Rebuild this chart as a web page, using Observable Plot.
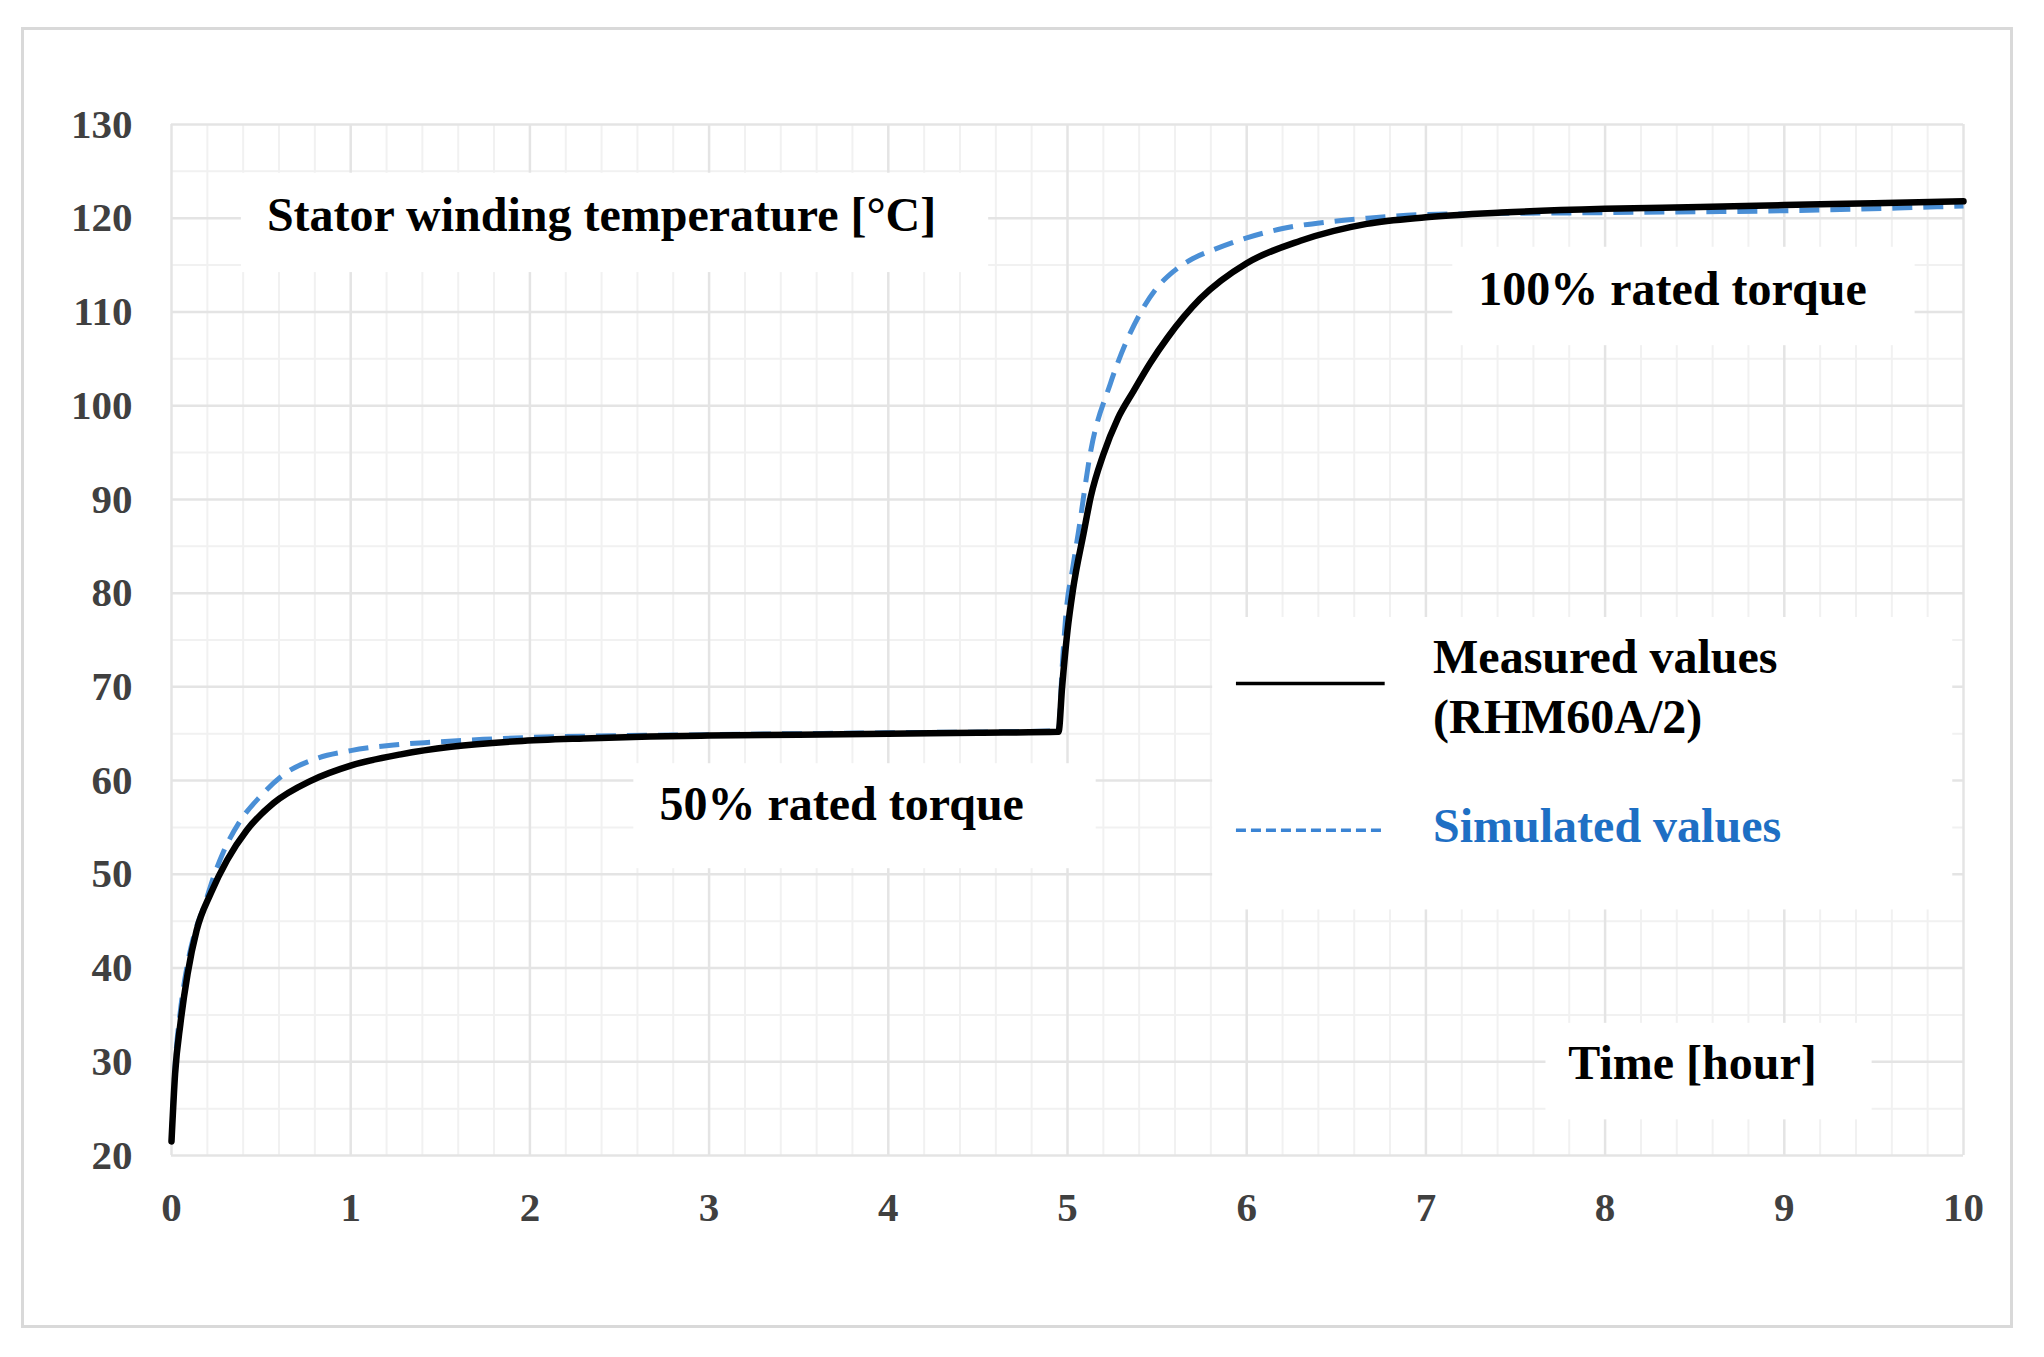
<!DOCTYPE html>
<html><head><meta charset="utf-8">
<script src="https://cdn.jsdelivr.net/npm/d3@7"></script>
<script src="https://cdn.jsdelivr.net/npm/@observablehq/plot@0.6"></script>
<style>
html,body{margin:0;padding:0;background:#fff;overflow:hidden;}
#wrap{position:relative;width:2044px;height:1357px;}
#frame{position:absolute;left:21px;top:27px;width:1992px;height:1301px;box-sizing:border-box;border:3px solid #d9d9d9;pointer-events:none;}
#chart{position:absolute;left:0;top:0;}
</style></head><body>
<div id="wrap"><div id="chart"></div><div id="frame"></div></div>
<script>
// Measured values (RHM60A/2)
const measuredTime = [0, 0.02, 0.05, 0.09, 0.14, 0.22, 0.31, 0.42, 0.57, 0.78, 1.0, 1.28, 1.56, 1.93, 2.3, 2.67, 3.0, 3.5, 4.0, 4.5, 4.95, 4.97, 5.0, 5.03, 5.09, 5.13, 5.2, 5.28, 5.37, 5.46, 5.56, 5.74, 6.0, 6.3, 6.67, 7.0, 7.42, 8.0, 8.53, 9.0, 9.5, 10];
const measuredTemp = [21.5, 28.7, 34.1, 39.4, 44.0, 48.0, 51.5, 54.7, 57.6, 60.0, 61.6, 62.8, 63.6, 64.2, 64.5, 64.7, 64.8, 64.9, 65.0, 65.1, 65.2, 70.0, 76.0, 80.3, 86.4, 90.3, 94.8, 98.6, 101.6, 104.5, 107.3, 111.4, 115.2, 117.6, 119.4, 120.1, 120.6, 121.0, 121.2, 121.4, 121.6, 121.8];
// Simulated values
const simulatedTime = [0, 0.02, 0.05, 0.09, 0.13, 0.18, 0.24, 0.29, 0.38, 0.5, 0.63, 0.8, 1.0, 1.24, 1.46, 1.74, 2.0, 3.0, 4.0, 4.95, 4.97, 4.99, 5.03, 5.06, 5.13, 5.24, 5.41, 5.5, 5.59, 5.7, 5.81, 6.0, 6.2, 6.45, 6.67, 7.0, 8.0, 9.0, 10];
const simulatedTemp = [21.5, 29.5, 35.5, 40.5, 43.8, 46.5, 50.0, 52.4, 55.6, 58.4, 60.7, 62.3, 63.2, 63.8, 64.1, 64.4, 64.6, 64.9, 65.1, 65.3, 72.0, 77.5, 82.8, 86.4, 95.2, 102.4, 110.0, 112.6, 114.3, 115.7, 116.6, 117.9, 118.9, 119.6, 120.0, 120.4, 120.6, 120.8, 121.3];

const xTicks = [0, 1, 2, 3, 4, 5, 6, 7, 8, 9, 10];
const yTicks = [20, 30, 40, 50, 60, 70, 80, 90, 100, 110, 120, 130];
const xMinor = d3.range(1, 50).filter(i => i % 5 !== 0).map(i => i / 5);
const yMinor = [25, 35, 45, 55, 65, 75, 85, 95, 105, 115, 125];

// Annotation text labels
const labelText = ["Stator winding temperature [°C]", "50% rated torque", "100% rated torque", "Time [hour]"];
const labelX = [2.40, 3.74, 8.376, 8.488];
const labelY = [120.33, 57.39, 112.33, 29.75];

// White boxes behind the text boxes (data units)
const boxX1 = [0.39, 2.58, 7.15, 7.67, 5.81];
const boxX2 = [4.56, 5.16, 9.73, 9.49, 9.94];
const boxY1 = [114.2, 50.6, 106.4, 23.8, 46.2];
const boxY2 = [124.8, 61.8, 116.9, 34.1, 77.4];

// Legend
const legendText = ["Measured values", "(RHM60A/2)", "Simulated values"];
const legendTextY = [73.07, 66.67, 55.04];
const legendTextColor = ["#000000", "#000000", "#1e6fc4"];
const legendTextX = 7.04;
const legendLineX1 = 5.94, legendLineX2 = 6.77;
const legendLineY = [70.36, 54.7];

const measured = measuredTime.map((t, i) => ({t, v: measuredTemp[i]}));
const simulated = simulatedTime.map((t, i) => ({t, v: simulatedTemp[i]}));
const labels = labelText.map((s, i) => ({s, x: labelX[i], y: labelY[i]}));
const boxes = boxX1.map((x1, i) => ({x1, x2: boxX2[i], y1: boxY1[i], y2: boxY2[i]}));
const legendLabels = legendText.map((s, i) => ({s, y: legendTextY[i], c: legendTextColor[i]}));

const font = "'Liberation Serif', 'Times New Roman', serif";

const chart = Plot.plot({
  width: 2044,
  height: 1357,
  marginLeft: 171,
  marginRight: 81,
  marginTop: 124,
  marginBottom: 202,
  x: {domain: [0, 10]},
  y: {domain: [20, 130]},
  style: {fontFamily: font, fontSize: "41px", fontWeight: "bold", background: "transparent", overflow: "visible"},
  marks: [
    Plot.gridX(xMinor, {stroke: "#f1f1f1", strokeOpacity: 1, strokeWidth: 2}),
    Plot.gridY(yMinor, {stroke: "#f1f1f1", strokeOpacity: 1, strokeWidth: 2}),
    Plot.gridX(xTicks, {stroke: "#e4e4e4", strokeOpacity: 1, strokeWidth: 2.5}),
    Plot.gridY(yTicks, {stroke: "#e4e4e4", strokeOpacity: 1, strokeWidth: 2.5}),
    Plot.rect(boxes, {x1: "x1", x2: "x2", y1: "y1", y2: "y2", fill: "white"}),
    Plot.line(simulated, {x: "t", y: "v", stroke: "#4a8fd6", strokeWidth: 5, strokeDasharray: "20,11", strokeLinecap: "butt", curve: "monotone-x"}),
    Plot.line(measured, {x: "t", y: "v", stroke: "#000", strokeWidth: 6.5, curve: "monotone-x"}),
    Plot.axisX({ticks: xTicks, tickSize: 0, tickPadding: 36, color: "#404040", fontWeight: "bold", label: null}),
    Plot.axisY({ticks: yTicks, tickSize: 0, tickPadding: 39, color: "#404040", fontWeight: "bold", label: null}),
    Plot.text(labels, {x: "x", y: "y", text: "s", fontSize: 48, fontWeight: "bold", fill: "#000", textAnchor: "middle", lineAnchor: "middle"}),
    Plot.link([legendLineY[0]], {x1: () => legendLineX1, x2: () => legendLineX2, y1: d => d, y2: d => d, stroke: "#000", strokeWidth: 3.5}),
    Plot.link([legendLineY[1]], {x1: () => legendLineX1, x2: () => legendLineX2, y1: d => d, y2: d => d, stroke: "#3b84d4", strokeWidth: 3.5, strokeDasharray: "10,5"}),
    Plot.text(legendLabels, {x: () => legendTextX, y: "y", text: "s", fill: d => d.c, fontSize: 48, fontWeight: "bold", textAnchor: "start", lineAnchor: "middle"})
  ]
});
document.getElementById("chart").appendChild(chart);
</script>
</body></html>
